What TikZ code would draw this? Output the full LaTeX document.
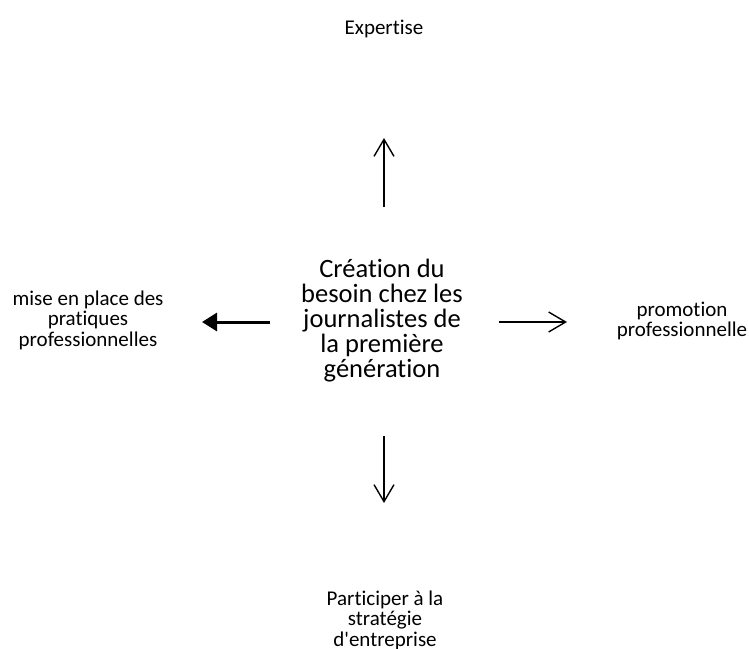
\documentclass[tikz,border=0pt]{standalone}
\usepackage{fontspec}
\setmainfont[Ligatures=NoCommon]{Carlito}
\usetikzlibrary{arrows.meta}
\begin{document}
\begin{tikzpicture}[x=1pt,y=-1pt,
        label/.style={align=center,inner sep=0pt,font=\fontsize{21}{20.5}\selectfont},
        open/.style={line width=1.4pt,-{Straight Barb[length=17pt,width=20pt,line width=1.4pt]}},
        bold/.style={line width=3pt,-{Triangle[length=15pt,width=18pt]}}]
    \useasboundingbox (0,0) rectangle (749,648);
    % centre text
    \node[align=center,inner sep=0pt,font=\fontsize{26.5}{25}\selectfont] (centre) at (382,321)
        {Création du\\besoin chez les\\journalistes de\\la première\\génération};
    % outer labels
    \node[label] (expertise) at (384,29) {Expertise};
    \node[label] (pratiques) at (88,320) {mise en place des\\pratiques\\professionnelles};
    \node[label] (promotion) at (682,321) {promotion\\professionnelle};
    \node[label] (strategie) at (385,620) {Participer à la\\stratégie\\d\textquotesingle entreprise};
    % arrow ends
    \coordinate (upA) at (384,207);    \coordinate (upB) at (384,138);
    \coordinate (downA) at (384,436);  \coordinate (downB) at (384,503);
    \coordinate (rightA) at (499,322); \coordinate (rightB) at (567,322);
    \coordinate (leftA) at (270,322);  \coordinate (leftB) at (202,322);
    \draw[open] (upA) -- (upB);
    \draw[open] (downA) -- (downB);
    \draw[open] (rightA) -- (rightB);
    \draw[bold] (leftA) -- (leftB);
\end{tikzpicture}
\end{document}
